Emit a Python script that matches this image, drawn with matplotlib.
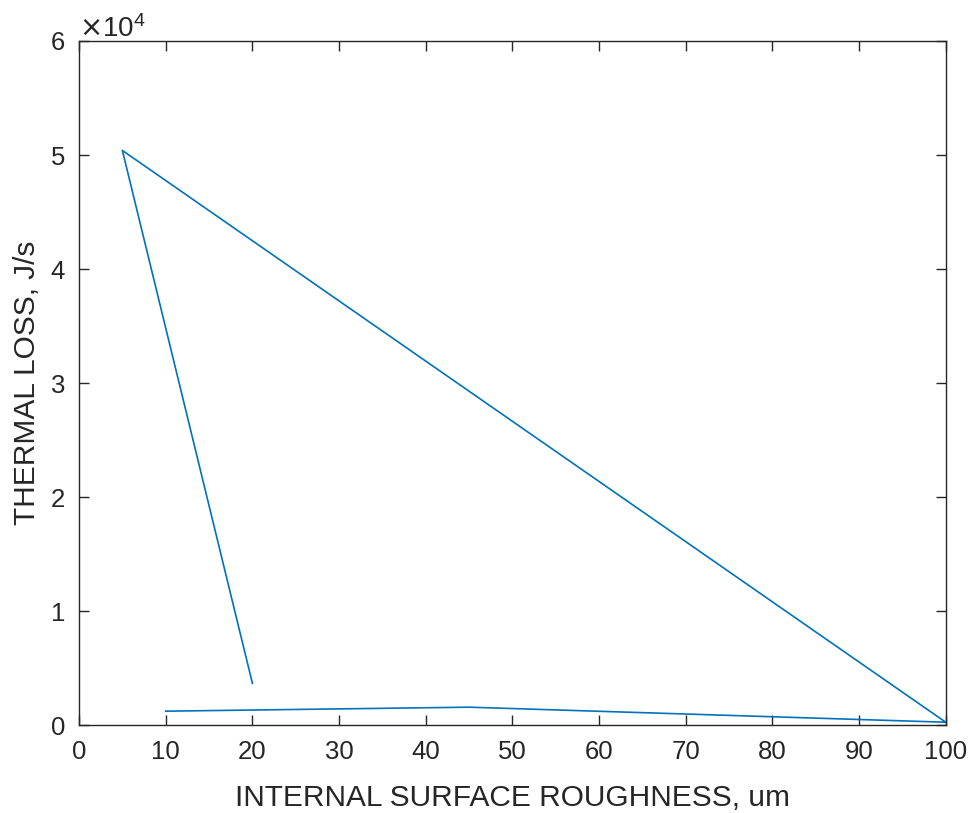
import matplotlib.pyplot as plt
from matplotlib.ticker import ScalarFormatter

plt.rcParams['font.family'] = ['Liberation Sans', 'DejaVu Sans']

# roughness (um) and thermal loss (J/s), in the order the line is drawn
roughness = [10, 45, 100, 5, 20]
thermal_loss = [1230, 1580, 260, 50400, 3680]

fig = plt.figure(figsize=(9.71, 8.13), dpi=100)
ax = fig.add_axes([0.0814, 0.108, 0.8926, 0.8416])

ax.plot(roughness, thermal_loss, color='#0072BD', lw=1.2)

ax.set_xlim(0, 100)
ax.set_ylim(0, 60000)
ax.set_xticks(range(0, 101, 10))
ax.set_yticks(range(0, 60001, 10000))

fmt = ScalarFormatter(useMathText=True)
fmt.set_powerlimits((0, 0))
ax.yaxis.set_major_formatter(fmt)
ax.yaxis.get_offset_text().set_fontsize(20)
ax.yaxis.get_offset_text().set_color('#262626')

ax.tick_params(direction='in', top=True, right=True, length=7, width=1,
               labelsize=18.5, colors='#262626')
ax.tick_params(axis='x', pad=11)
ax.tick_params(axis='y', pad=10)
for s in ax.spines.values():
    s.set_color('#262626')
    s.set_linewidth(1)

ax.set_xlabel('INTERNAL SURFACE ROUGHNESS, um', fontsize=21.5, color='#262626', labelpad=14)
ax.set_ylabel('THERMAL LOSS, J/s', fontsize=21.5, color='#262626', labelpad=6)

fig.savefig('out.png')
